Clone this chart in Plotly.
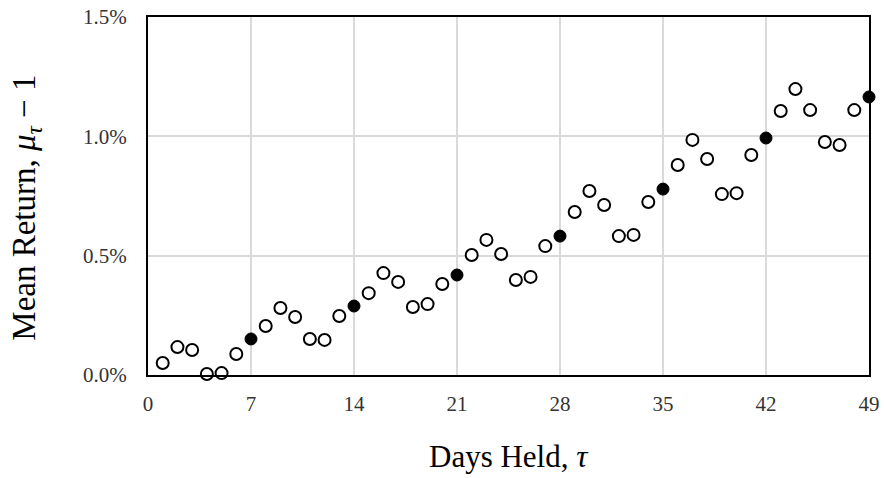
import plotly.graph_objects as go

# Holding period in days and mean return (percent)
days = list(range(1, 50))
mean_return_pct = [
    0.050, 0.117, 0.105, 0.004, 0.008, 0.088, 0.151, 0.205, 0.281, 0.243,
    0.151, 0.147, 0.247, 0.289, 0.343, 0.427, 0.390, 0.285, 0.297, 0.381,
    0.419, 0.503, 0.566, 0.507, 0.398, 0.411, 0.540, 0.582, 0.683, 0.771,
    0.712, 0.582, 0.587, 0.725, 0.779, 0.880, 0.985, 0.905, 0.758, 0.762,
    0.922, 0.993, 1.106, 1.198, 1.110, 0.976, 0.964, 1.110, 1.165,
]
x_ticks = [0, 7, 14, 21, 28, 35, 42, 49]
y_ticks = [0.0, 0.5, 1.0, 1.5]
y_tick_labels = ["0.0%", "0.5%", "1.0%", "1.5%"]

# Whole weeks are drawn filled, other days hollow
week_x = [d for d in days if d % 7 == 0]
week_y = [v for d, v in zip(days, mean_return_pct) if d % 7 == 0]
other_x = [d for d in days if d % 7 != 0]
other_y = [v for d, v in zip(days, mean_return_pct) if d % 7 != 0]

font_family = "Liberation Serif, Times New Roman, serif"
tick_font = dict(size=21, family=font_family, color="#333333")
x_title_font = dict(size=31, family=font_family, color="black")
y_title_font = dict(size=33, family=font_family, color="black")

fig = go.Figure()
fig.add_trace(go.Scatter(
    x=other_x, y=other_y, mode="markers", cliponaxis=False,
    marker=dict(size=12, color="white", line=dict(color="black", width=2)),
    showlegend=False,
))
fig.add_trace(go.Scatter(
    x=week_x, y=week_y, mode="markers", cliponaxis=False,
    marker=dict(size=12, color="black", line=dict(color="black", width=1)),
    showlegend=False,
))

fig.update_layout(
    width=884, height=478,
    margin=dict(l=148, r=15, t=17, b=103, autoexpand=False),
    paper_bgcolor="white", plot_bgcolor="white",
    font=dict(family=font_family, color="#333333", size=21),
    xaxis=dict(
        range=[0, 49], tickmode="array", tickvals=x_ticks, automargin=False,
        showgrid=True, gridcolor="#d9d9d9", gridwidth=2, zeroline=False,
        showline=True, linecolor="black", linewidth=2, mirror=True,
        ticks="outside", ticklen=9, tickcolor="rgba(0,0,0,0)",
        tickfont=tick_font,
    ),
    yaxis=dict(
        range=[0, 1.5], tickmode="array", tickvals=y_ticks, ticktext=y_tick_labels,
        automargin=False,
        showgrid=True, gridcolor="#d9d9d9", gridwidth=2, zeroline=False,
        showline=True, linecolor="black", linewidth=2, mirror=True,
        ticks="outside", ticklen=15, tickcolor="rgba(0,0,0,0)",
        tickfont=tick_font,
    ),
    annotations=[
        dict(text="Days Held, <i>τ</i>", xref="paper", yref="paper",
             x=0.5, y=-0.229, xanchor="center", yanchor="middle",
             showarrow=False, font=x_title_font),
        dict(text="Mean Return, <i>μ</i><sub><i>τ</i></sub> − 1", xref="paper", yref="paper",
             x=-0.168, y=0.467, xanchor="center", yanchor="middle", textangle=-90,
             showarrow=False, font=y_title_font),
    ],
)

fig.write_html("out.html")
